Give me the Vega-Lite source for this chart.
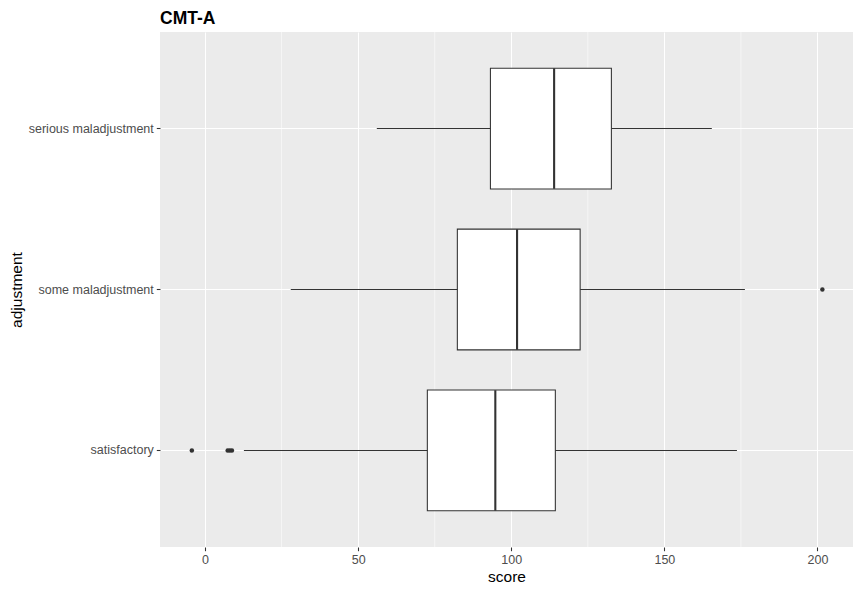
{
  "$schema": "https://vega.github.io/schema/vega-lite/v6.json",
  "autosize": "none",
  "padding": {"left": 160, "top": 32, "right": 8, "bottom": 45},
  "width": 693,
  "height": 515,
  "title": {"text": "CMT-A", "anchor": "start", "frame": "group", "font": "Liberation Sans", "fontSize": 17.5, "fontWeight": "bold", "color": "#000000", "baseline": "alphabetic", "offset": -10},
  "config": {
    "view": {"fill": "#EBEBEB", "stroke": null},
    "font": "Liberation Sans",
    "axis": {
      "gridColor": "#FFFFFF", "gridWidth": 1.07, "domain": false,
      "tickColor": "#333333", "tickSize": 3.7, "tickWidth": 1.07,
      "labelColor": "#4D4D4D", "labelFontSize": 12.5, "labelFont": "Liberation Sans",
      "titleColor": "#000000", "titleFontSize": 15.5, "titleFontWeight": "normal", "titleFont": "Liberation Sans"
    }
  },
  "datasets": {
    "boxes": [
      {"adjustment": "serious maladjustment", "lower": 56.1, "q1": 93.2, "median": 114.0, "q3": 132.7, "upper": 165.5},
      {"adjustment": "some maladjustment", "lower": 28.0, "q1": 82.4, "median": 101.9, "q3": 122.5, "upper": 176.3},
      {"adjustment": "satisfactory", "lower": 12.7, "q1": 72.6, "median": 94.8, "q3": 114.4, "upper": 173.7}
    ],
    "outliers": [
      {"adjustment": "some maladjustment", "score": 201.6},
      {"adjustment": "satisfactory", "score": -4.3},
      {"adjustment": "satisfactory", "score": 7.4},
      {"adjustment": "satisfactory", "score": 8.1},
      {"adjustment": "satisfactory", "score": 8.8}
    ],
    "minor": [{"m": 25}, {"m": 75}, {"m": 125}, {"m": 175}]
  },
  "layer": [
    {
      "data": {"name": "minor"},
      "mark": {"type": "rule", "color": "#FFFFFF", "strokeWidth": 0.53},
      "encoding": {
        "x": {"field": "m", "type": "quantitative", "scale": {"domain": [-14.7, 211.6], "nice": false, "zero": false}}
      }
    },
    {
      "data": {"name": "boxes"},
      "mark": {"type": "rule", "color": "#333333", "strokeWidth": 1.07},
      "encoding": {
        "y": {"field": "adjustment", "type": "nominal", "sort": ["serious maladjustment", "some maladjustment", "satisfactory"], "scale": {"paddingInner": 0, "paddingOuter": 0.1}, "axis": {"title": "adjustment", "grid": true, "labelPadding": 3, "titlePadding": 4}},
        "x": {"field": "lower", "type": "quantitative", "scale": {"domain": [-14.7, 211.6], "nice": false, "zero": false}, "axis": {"title": "score", "values": [0, 50, 100, 150, 200], "grid": true, "labelPadding": 3, "titlePadding": 3}},
        "x2": {"field": "upper"}
      }
    },
    {
      "data": {"name": "boxes"},
      "mark": {"type": "bar", "fill": "#FFFFFF", "stroke": "#333333", "strokeWidth": 1.07, "height": {"band": 0.75}},
      "encoding": {
        "y": {"field": "adjustment", "type": "nominal", "sort": ["serious maladjustment", "some maladjustment", "satisfactory"]},
        "x": {"field": "q1", "type": "quantitative"},
        "x2": {"field": "q3"}
      }
    },
    {
      "data": {"name": "boxes"},
      "mark": {"type": "tick", "color": "#333333", "thickness": 2.1, "size": 120.5, "opacity": 1},
      "encoding": {
        "y": {"field": "adjustment", "type": "nominal", "sort": ["serious maladjustment", "some maladjustment", "satisfactory"]},
        "x": {"field": "median", "type": "quantitative"}
      }
    },
    {
      "data": {"name": "outliers"},
      "mark": {"type": "circle", "color": "#333333", "size": 20, "opacity": 1},
      "encoding": {
        "y": {"field": "adjustment", "type": "nominal", "sort": ["serious maladjustment", "some maladjustment", "satisfactory"]},
        "x": {"field": "score", "type": "quantitative"}
      }
    }
  ]
}
